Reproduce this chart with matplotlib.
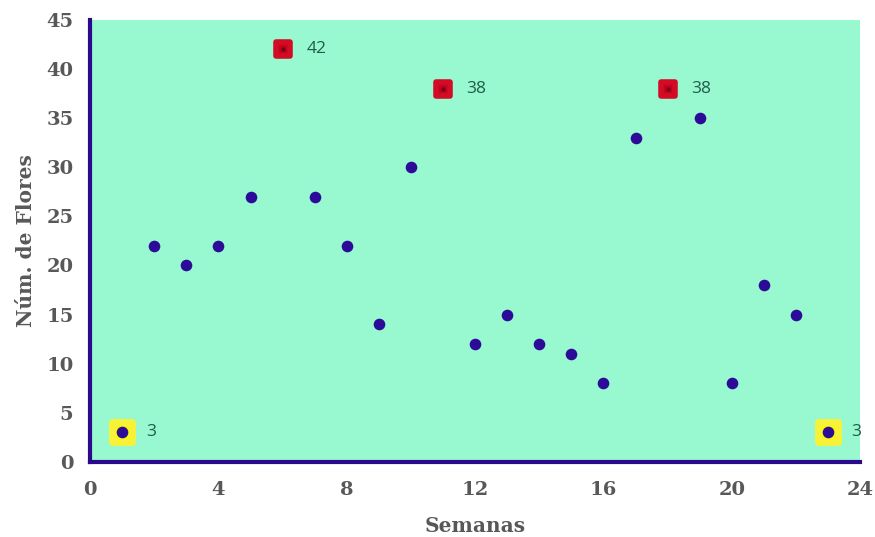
import numpy as np
import matplotlib.pyplot as plt
from matplotlib.markers import MarkerStyle

# --- data ---
weeks = [1, 2, 3, 4, 5, 6, 7, 8, 9, 10, 11, 12, 13, 14, 15, 16, 17, 18, 19, 20, 21, 22, 23]
flowers = [3, 22, 20, 22, 27, 42, 27, 22, 14, 30, 38, 12, 15, 12, 11, 8, 33, 38, 35, 8, 18, 15, 3]
max_weeks = [6, 11, 18]
max_vals = [42, 38, 38]
min_weeks = [1, 23]
min_vals = [3, 3]

x_ticks = [0, 4, 8, 12, 16, 20, 24]
y_ticks = [0, 5, 10, 15, 20, 25, 30, 35, 40, 45]

fig = plt.figure(figsize=(8.75, 5.37), dpi=100)
ax = fig.add_axes([0.103, 0.140, 0.880, 0.823])
ax.set_facecolor('#98F8CF')

rsq = MarkerStyle('s', joinstyle='round')

# highlight behind min points (soft yellow rounded square)
ax.plot(min_weeks, min_vals, ls='none', marker=rsq, ms=14, mew=5,
        color='#FFF500', mec='#F6F23A', zorder=2)
ax.scatter(weeks, flowers, s=70, color='#2B0B98', zorder=3, linewidths=0)
# max points in red
ax.plot(max_weeks, max_vals, ls='none', marker=rsq, ms=10, mew=4,
        color='#C8001A', mec='#D20C24', zorder=4)
ax.scatter(max_weeks, max_vals, s=10, color='#6A0A20', zorder=5, linewidths=0)

for xw, yv in zip(max_weeks + min_weeks, max_vals + min_vals):
    ax.annotate(str(yv), (xw, yv), xytext=(17, 0), textcoords='offset points',
                va='center', ha='left', fontsize=12.5, color='#1E5E48',
                family='Open Sans', zorder=6)

ax.set_xlim(0, 24)
ax.set_ylim(0, 45)
ax.set_xticks(x_ticks)
ax.set_yticks(y_ticks)
ax.tick_params(length=0, labelsize=14, labelcolor='#585858')
ax.tick_params(axis='x', pad=14)
ax.tick_params(axis='y', pad=12)
for lab in ax.get_xticklabels() + ax.get_yticklabels():
    lab.set_family('DejaVu Serif')
    lab.set_fontweight('bold')

for s in ['top', 'right']:
    ax.spines[s].set_visible(False)
for s in ['left', 'bottom']:
    ax.spines[s].set_color('#2A0A8C')
    ax.spines[s].set_linewidth(3)

ax.set_xlabel('Semanas', family='DejaVu Serif', fontweight='bold', fontsize=14.5,
              color='#585858', labelpad=12)
ax.set_ylabel('Núm. de Flores', family='DejaVu Serif', fontweight='bold', fontsize=14.5,
              color='#585858', labelpad=7)

plt.savefig('out.png', dpi=100)
